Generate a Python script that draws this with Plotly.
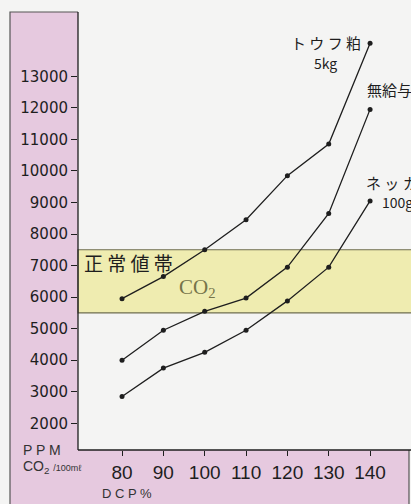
import plotly.graph_objects as go

# ---- data ----
dcp = [80, 90, 100, 110, 120, 130, 140]
tofu_5kg = [5950, 6650, 7500, 8450, 9850, 10850, 14050]
no_feed = [4000, 4950, 5550, 5970, 6950, 8650, 11950]
nekka_100g = [2850, 3750, 4250, 4950, 5880, 6950, 9050]
y_ticks = [2000, 3000, 4000, 5000, 6000, 7000, 8000, 9000, 10000, 11000, 12000, 13000]
x_ticks = [80, 90, 100, 110, 120, 130, 140]
band_low, band_high = 5500, 7500

W, H = 411, 504
L, R, T, B = 78, 0, 0, 54
PW, PH = W - L - R, H - T - B


def px(x, y):
    """pixel -> paper coordinates"""
    return (x - L) / PW, (H - B - y) / PH


PINK = "#e6c9df"
BG = "#f4f4f3"
INK = "#1e1e1e"
JP = "Noto Sans CJK JP"

fig = go.Figure()
for ys in (tofu_5kg, no_feed, nekka_100g):
    fig.add_trace(go.Scatter(
        x=dcp, y=ys, mode="lines+markers",
        line=dict(color=INK, width=1.3),
        marker=dict(color=INK, size=5),
        showlegend=False, hoverinfo="skip"))

shapes = []
# pink L-shaped panel: big pink box, then plot area covered in background colour
x0, y0 = px(10, 12)
x1, y1 = px(409, 520)
shapes.append(dict(type="rect", xref="paper", yref="paper", x0=x0, y0=y1, x1=x1, y1=y0,
                   fillcolor=PINK, line=dict(color="#555", width=1.2), layer="below"))
x0, y0 = px(78, -10)
x1, y1 = px(420, 450)
shapes.append(dict(type="rect", xref="paper", yref="paper", x0=x0, y0=y1, x1=x1, y1=y0,
                   fillcolor=BG, line=dict(width=0), layer="below"))
# axis lines
a0, b0 = px(78, 12)
a1, b1 = px(78, 450)
shapes.append(dict(type="line", xref="paper", yref="paper", x0=a0, y0=b0, x1=a1, y1=b1,
                   line=dict(color=INK, width=1.3)))
c1, _ = px(415, 450)
shapes.append(dict(type="line", xref="paper", yref="paper", x0=a1, y0=b1, x1=c1, y1=b1,
                   line=dict(color=INK, width=1.3)))
# normal CO2 band
shapes.append(dict(type="rect", xref="paper", yref="y", x0=0, x1=1.02, y0=band_low, y1=band_high,
                   fillcolor="#efecb0", line=dict(color="#6f6d50", width=1.1), layer="below"))

ann = []


def add_text(text, x, y, size, font=JP, color=INK, xanchor="left"):
    xp, yp = px(x, y)
    ann.append(dict(text=text, x=xp, y=yp, xref="paper", yref="paper", showarrow=False,
                    xanchor=xanchor, yanchor="middle", font=dict(family=font, size=size, color=color)))


add_text("ト ウ フ 粕", 289, 43, 15)
add_text("5kg", 312, 63, 14)
add_text("無給与", 365, 90, 15)
add_text("ネ ッ カ", 364, 183, 15)
add_text("100g", 380, 202, 14)
add_text("正 常 値 帯", 82, 262, 19)
add_text("CO<sub>2</sub>", 177, 288, 21, font="Liberation Serif", color="#76744a")
add_text("P P M", 21, 450, 14, font="Liberation Sans", color="#333")
add_text("CO<sub>2</sub> <span style='font-size:9px'>/100mℓ</span>", 21, 467, 14,
         font="Liberation Sans", color="#333")
add_text("D C P %", 100, 493, 13, font="Liberation Sans", color="#333")

fig.update_layout(
    width=W, height=H, autosize=False,
    margin=dict(l=L, r=R, t=T, b=B, pad=0),
    paper_bgcolor=BG, plot_bgcolor="rgba(0,0,0,0)",
    shapes=shapes, annotations=ann,
    xaxis=dict(range=[69.35, 149.9], tickvals=x_ticks, ticktext=[str(v) for v in x_ticks],
               ticks="outside", ticklen=5, tickwidth=1.2, tickcolor=INK,
               showline=False, showgrid=False, zeroline=False,
               tickfont=dict(family="Liberation Sans", size=19, color=INK)),
    yaxis=dict(range=[1154, 15417], tickvals=y_ticks, ticktext=[str(v) for v in y_ticks],
               ticks="outside", ticklen=6, tickwidth=1.2, tickcolor=INK,
               showline=False, showgrid=False, zeroline=False,
               tickfont=dict(family="DejaVu Sans", size=15, color=INK)),
)

fig.write_html("out.html", config={"displayModeBar": False},
               post_script="document.body.style.margin='0';document.body.style.overflow='hidden';")
